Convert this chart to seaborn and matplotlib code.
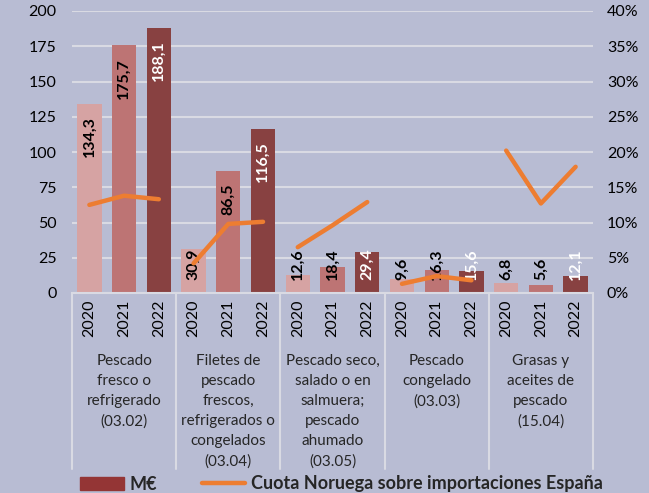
import pandas as pd
import numpy as np
import matplotlib.pyplot as plt
import matplotlib.transforms as mtransforms
from matplotlib.patches import Patch
from matplotlib.lines import Line2D
from matplotlib.ticker import PercentFormatter
import seaborn as sns

# Data
groups = [
    "Pescado\nfresco o\nrefrigerado\n(03.02)",
    "Filetes de\npescado\nfrescos,\nrefrigerados o\ncongelados\n(03.04)",
    "Pescado seco,\nsalado o en\nsalmuera;\npescado\nahumado\n(03.05)",
    "Pescado\ncongelado\n(03.03)",
    "Grasas y\naceites de\npescado\n(15.04)",
]
years = ["2020", "2021", "2022"]
value_meur = [
    [134.3, 175.7, 188.1],
    [30.9, 86.5, 116.5],
    [12.6, 18.4, 29.4],
    [9.6, 16.3, 15.6],
    [6.8, 5.6, 12.1],
]
share_pct = [
    [12.5, 13.8, 13.3],
    [4.2, 9.8, 10.1],
    [6.5, 9.6, 12.9],
    [1.3, 2.4, 1.8],
    [20.2, 12.7, 17.9],
]

bg = "#b8bcd3"
grid_col = "#d9dae3"
bar_colors = {"2020": "#de9a9a", "2021": "#c96868", "2022": "#943535"}
orange = "#ed7d31"

sns.set_theme(style="white")
plt.rcParams["font.family"] = ["Lato", "DejaVu Sans"]

rows = []
for gi, g in enumerate(groups):
    for yi, y in enumerate(years):
        rows.append({"key": f"{gi}-{y}", "group": gi, "year": y,
                     "value": value_meur[gi][yi], "share": share_pct[gi][yi] / 100})
df = pd.DataFrame(rows)
df["pos"] = np.arange(len(df))

fig = plt.figure(figsize=(6.49, 4.93), dpi=100, facecolor=bg)
ax = fig.add_axes([72 / 649, 200 / 493, 521 / 649, 282 / 493])
ax.set_facecolor(bg)

sns.barplot(data=df, x="key", y="value", hue="year", palette=bar_colors,
            dodge=False, width=0.7, linewidth=0, legend=False, ax=ax, zorder=2)

ax.set_xlim(-0.5, len(df) - 0.5)
ax.set_ylim(0, 200)
ax.set_yticks(np.arange(0, 201, 25))
ax.yaxis.grid(True, color=grid_col, lw=1.5, zorder=0)
ax.set_axisbelow(True)
for s in ["top", "left", "right"]:
    ax.spines[s].set_visible(False)
ax.spines["bottom"].set_color(grid_col)
ax.spines["bottom"].set_linewidth(1.5)
ax.set_xlabel("")
ax.set_ylabel("")
ax.set_xticks(df["pos"])
ax.set_xticklabels(df["year"], rotation=90, fontsize=11.5)
ax.tick_params(axis="x", length=0, pad=5, colors="black")
ax.tick_params(axis="y", length=0, pad=11, labelsize=11.5, colors="black")

# value labels
for _, r in df.iterrows():
    txt = f"{r['value']:.1f}".replace(".", ",")
    col = "white" if r["year"] == "2022" else "black"
    if r["value"] > 50:
        ax.annotate(txt, xy=(r["pos"], r["value"]), xytext=(0, -9),
                    textcoords="offset points", rotation=90, ha="center",
                    va="top", fontsize=11.5, fontweight="bold", color=col, zorder=3)
    else:
        ax.annotate(txt, xy=(r["pos"], 0), xytext=(0, 9),
                    textcoords="offset points", rotation=90, ha="center",
                    va="bottom", fontsize=11.5, fontweight="bold", color=col, zorder=3)

# share line on secondary axis
ax2 = ax.twinx()
for gi in range(len(groups)):
    sub = df[df["group"] == gi]
    sns.lineplot(x=sub["pos"].to_numpy(), y=sub["share"].to_numpy(), ax=ax2,
                 color=orange, lw=3.2, solid_capstyle="round")
ax2.set_ylim(0, 0.4)
ax2.set_yticks(np.arange(0, 0.41, 0.05))
ax2.yaxis.set_major_formatter(PercentFormatter(1.0, decimals=0))
ax2.tick_params(axis="y", length=0, pad=10, labelsize=11.5, colors="black")
for s in ax2.spines.values():
    s.set_visible(False)

# group separators and labels
trans = mtransforms.blended_transform_factory(ax.transData, ax.transAxes)
for b in np.arange(-0.5, len(df), 3):
    ax.plot([b, b], [0, -0.625], transform=trans, color=grid_col, lw=1.5,
            clip_on=False, zorder=1)
for gi, g in enumerate(groups):
    ax.text(gi * 3 + 1, -0.217, g, transform=trans, ha="center", va="top",
            fontsize=11, linespacing=1.55)

handles = [Patch(color=bar_colors["2022"], label="M€"),
           Line2D([0], [0], color=orange, lw=3.2, label="Cuota Noruega sobre importaciones España")]
leg = fig.legend(handles=handles, loc="center", bbox_to_anchor=(0.526, 1 - 484 / 493),
                 ncol=2, frameon=False, handlelength=2.4, handletextpad=0.3,
                 columnspacing=2.5, prop={"weight": "bold", "size": 13})

fig.savefig("out.png", dpi=100, facecolor=bg)
